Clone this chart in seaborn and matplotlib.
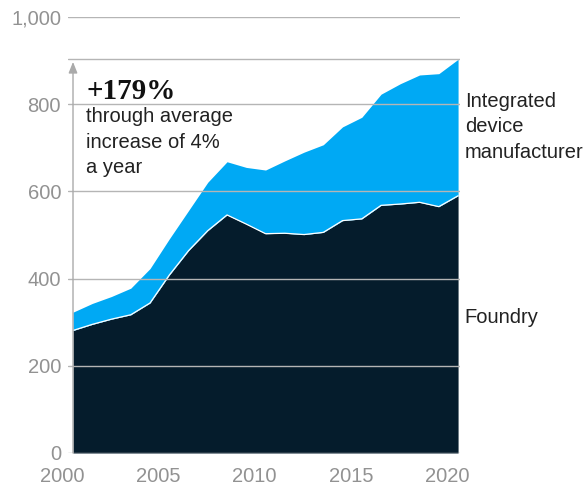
import matplotlib
matplotlib.use("Agg")
import matplotlib.pyplot as plt
import matplotlib.transforms as mtransforms
import numpy as np
import pandas as pd
import seaborn as sns

years = list(range(2000, 2021))
foundry = [281, 295, 307, 317, 344, 408, 464, 510, 546, 525, 503, 504, 501, 506, 533, 537, 568, 571, 575, 565, 590]
total = [323, 343, 359, 378, 423, 491, 556, 621, 668, 655, 649, 670, 690, 707, 748, 770, 823, 847, 867, 870, 903]
ytick_vals = [0, 200, 400, 600, 800, 1000]
ytick_labels = ["0", "200", "400", "600", "800", "1,000"]
xtick_vals = [2000, 2005, 2010, 2015, 2020]

df = pd.DataFrame({"year": years, "foundry": foundry, "total": total})

sns.set_theme(style="white")
plt.rcParams["font.family"] = ["Liberation Sans", "DejaVu Sans"]

fig = plt.figure(figsize=(5.83, 4.88), dpi=100)
ax = fig.add_axes([68 / 583, 35 / 488, 392 / 583, 436 / 488])

navy = "#051C2C"
blue = "#00A9F4"

ax.fill_between(df["year"], 0, df["foundry"], color=navy, linewidth=0, zorder=1)
ax.fill_between(df["year"], df["foundry"], df["total"], color=blue, linewidth=0, zorder=1)
sns.lineplot(data=df, x="year", y="foundry", color="white", linewidth=0.9, ax=ax, zorder=2)

ax.set_xlim(1999.74, 2020.1)
ax.set_ylim(0, 1000)

for v in ytick_vals:
    ax.axhline(v, color="#b5b5b5", linewidth=1, zorder=3)
ax.axhline(total[-1], color="#b5b5b5", linewidth=1, zorder=3)

ax.set_yticks(ytick_vals)
ax.set_yticklabels(ytick_labels)
ax.set_xticks(xtick_vals)
ax.set_xticklabels([str(x) for x in xtick_vals])
ax.tick_params(axis="both", length=0, colors="#929292", labelsize=14.5)
ax.tick_params(axis="y", pad=5)
ax.tick_params(axis="x", pad=10)
offset = mtransforms.ScaledTranslation(-11 / 100, 0, fig.dpi_scale_trans)
for lab in ax.get_xticklabels():
    lab.set_transform(lab.get_transform() + offset)

for s in ax.spines.values():
    s.set_visible(False)
ax.set_xlabel("")
ax.set_ylabel("")

# vertical arrow
ax.annotate("", xy=(2000, 897), xytext=(2000, 0),
            arrowprops=dict(arrowstyle="-|>,head_width=0.22,head_length=0.55",
                            color="#aaaaaa", lw=1, shrinkA=0, shrinkB=0), zorder=4)

ax.text(2000.7, 812, "+179%", family=["Liberation Serif", "DejaVu Serif"], fontweight="bold",
        fontsize=21, color="#111111", va="baseline", ha="left")
ax.text(2000.7, 713, "through average\nincrease of 4%\na year", fontsize=14.5, color="#222222",
        va="center", ha="left", linespacing=1.45)

ax.text(2020.35, 748, "Integrated\ndevice\nmanufacturer", fontsize=14.5, color="#222222",
        va="center", ha="left", linespacing=1.45, clip_on=False)
ax.text(2020.35, 310, "Foundry", fontsize=14.5, color="#222222",
        va="center", ha="left", clip_on=False)

fig.savefig("out.png", dpi=100)
